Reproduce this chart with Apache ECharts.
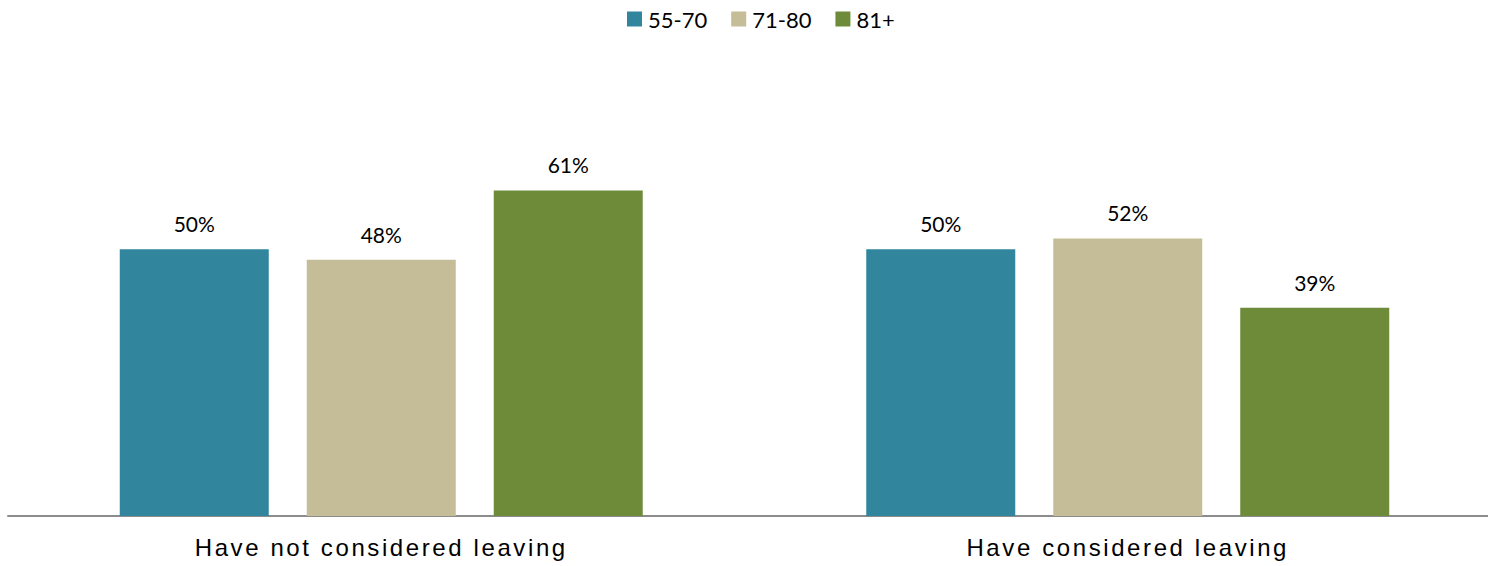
<!DOCTYPE html>
<html><head><meta charset="utf-8">
<script src="https://cdn.jsdelivr.net/npm/echarts@6/dist/echarts.min.js"></script>
<style>
html,body{margin:0;padding:0;background:#fff}
#c{width:1488px;height:566px}
#c text[style*="Liberation Sans"]{letter-spacing:2.6px}
</style>
</head><body><div id="c"></div>
<script>
const categories = ["Have not considered leaving", "Have considered leaving"];
const seriesNames = ["55-70", "71-80", "81+"];
const values5570 = [50, 50];
const values7180 = [48, 52];
const values81 = [61, 39];
const colors = ["#31859C", "#C4BD97", "#6E8B3A"];
const allValues = [values5570, values7180, values81];

const chart = echarts.init(document.getElementById('c'), null, {renderer: 'svg'});
chart.setOption({
  animation: false,
  backgroundColor: '#fff',
  legend: {
    top: 8, left: 627, padding: 0, itemWidth: 15, itemHeight: 15, itemGap: 24,
    icon: 'rect',
    textStyle: {fontFamily: 'Lato', fontSize: 22, color: '#000', padding: [0, 0, 0, 1]},
    data: seriesNames
  },
  grid: {left: 8, right: -13, top: 89, bottom: 50, containLabel: false, outerBoundsMode: 'none'},
  xAxis: {
    type: 'category', data: categories,
    axisLine: {lineStyle: {color: '#8c8c8c', width: 2}},
    axisTick: {show: false},
    axisLabel: {fontFamily: 'Liberation Sans', fontSize: 24, color: '#000', margin: 19}
  },
  yAxis: {type: 'value', min: 0, max: 80, show: false, splitLine: {show: false}},
  series: seriesNames.map((n, i) => ({
    name: n, type: 'bar', data: allValues[i],
    barWidth: 149, barGap: '25.5%',
    itemStyle: {color: colors[i]},
    label: {show: true, position: 'top', distance: 15, formatter: '{c}%',
      fontFamily: 'Lato', fontSize: 21, color: '#000'}
  }))
});
</script></body></html>
